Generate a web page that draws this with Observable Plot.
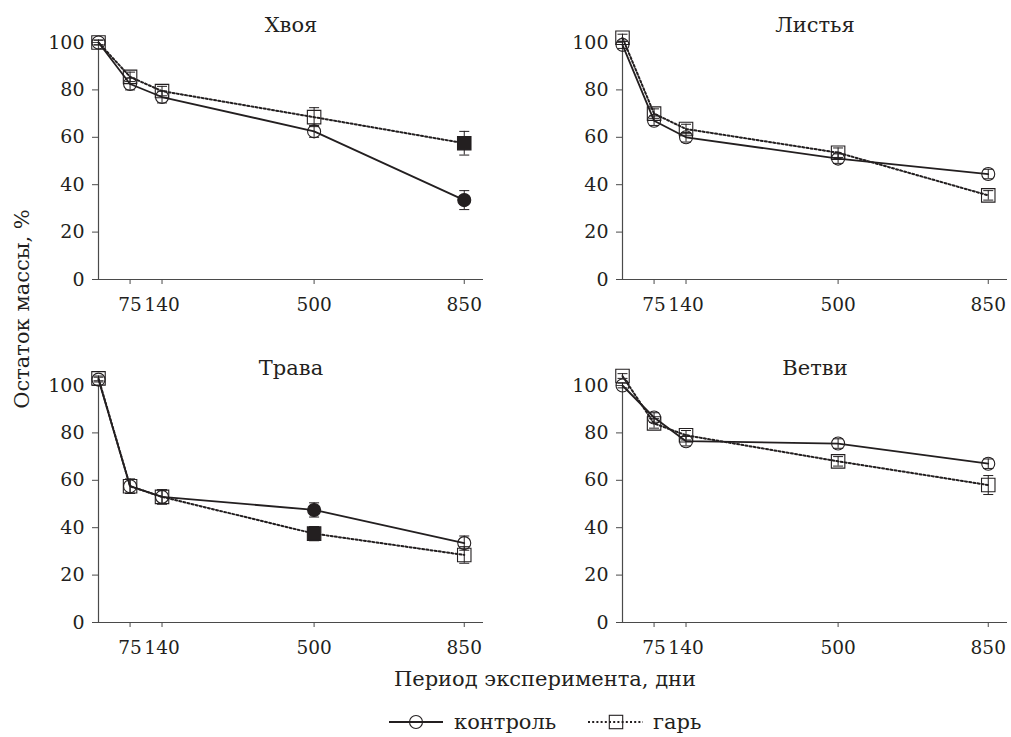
<!DOCTYPE html>
<html><head><meta charset="utf-8">
<script src="https://cdn.jsdelivr.net/npm/d3@7"></script>
<script src="https://cdn.jsdelivr.net/npm/@observablehq/plot@0.6"></script>
<style>
body{margin:0;background:#fff;}
#wrap{position:relative;width:1011px;height:737px;font-family:"DejaVu Serif",serif;color:#231f20;overflow:hidden;}
.panel{position:absolute;}
.lab{position:absolute;font-size:21px;white-space:nowrap;}
</style></head><body><div id="wrap"></div>
<script>
// ---- data ----
const days = [0, 75, 140, 500, 850];
const tickDays = [75, 140, 500, 850];
const yTicks = [0, 20, 40, 60, 80, 100];
const panelTitles = ["Хвоя", "Листья", "Трава", "Ветви"];
const seriesNames = ["контроль", "гарь"];

const khvoyaControl = [100, 82.5, 77, 62.5, 33.5];
const khvoyaControlErr = [1, 2.5, 2.5, 2.5, 4];
const khvoyaControlSig = [0, 0, 0, 0, 1];
const khvoyaBurn = [100, 85.5, 79.5, 68.5, 57.5];
const khvoyaBurnErr = [1, 2, 2, 4, 5];
const khvoyaBurnSig = [0, 0, 0, 0, 1];

const listyaControl = [99, 67, 60, 51, 44.5];
const listyaControlErr = [1.5, 2, 2, 2, 2];
const listyaControlSig = [0, 0, 0, 0, 0];
const listyaBurn = [102, 70, 63.5, 53.5, 35.5];
const listyaBurnErr = [1.5, 2, 2, 2, 2];
const listyaBurnSig = [0, 0, 0, 0, 0];

const travaControl = [102.5, 57.5, 53, 47.5, 33.5];
const travaControlErr = [1, 3, 3, 3, 3];
const travaControlSig = [0, 0, 0, 1, 0];
const travaBurn = [103, 57.5, 53, 37.5, 28.5];
const travaBurnErr = [1, 3, 3, 3, 3.5];
const travaBurnSig = [0, 0, 0, 1, 0];

const vetviControl = [100, 86.5, 76.5, 75.5, 67];
const vetviControlErr = [1, 2, 2, 2, 2];
const vetviControlSig = [0, 0, 0, 0, 0];
const vetviBurn = [104, 84, 79, 68, 58];
const vetviBurnErr = [1, 2, 2, 2, 4];
const vetviBurnSig = [0, 0, 0, 0, 0];

// ---- build ----
const ink = "#231f20";
const axisInk = "#4a4a4a";
const font = "DejaVu Serif";
function rows(vals, errs, sig, series) {
  return days.map((d, i) => ({day: d, value: vals[i], err: errs[i], sig: !!sig[i], series}));
}
const panelData = [
  [rows(khvoyaControl, khvoyaControlErr, khvoyaControlSig, 0), rows(khvoyaBurn, khvoyaBurnErr, khvoyaBurnSig, 1)],
  [rows(listyaControl, listyaControlErr, listyaControlSig, 0), rows(listyaBurn, listyaBurnErr, listyaBurnSig, 1)],
  [rows(travaControl, travaControlErr, travaControlSig, 0), rows(travaBurn, travaBurnErr, travaBurnSig, 1)],
  [rows(vetviControl, vetviControlErr, vetviControlSig, 0), rows(vetviBurn, vetviBurnErr, vetviBurnSig, 1)]
];

const W = 505, H = 320, mL = 98, mR = 22, mT = 42, mB = 41;
const inner = W - mL - mR;
// piecewise axis: compressed spacing as in the source figure
const xDomain = [0, 75, 140, 500, 850, 897];
const xFrac = [0, 0.082, 0.165, 0.560, 0.950, 1];
const xRange = xFrac.map(f => mL + f * inner);

const capSymbol = {draw(ctx, size) { const r = Math.sqrt(size / Math.PI); ctx.moveTo(-r, 0); ctx.lineTo(r, 0); }};

const positions = [[0, 0], [524, 0], [0, 343], [524, 343]];
const wrap = document.getElementById("wrap");

panelData.forEach(([ctrl, burn], k) => {
  const all = ctrl.concat(burn);
  const chart = Plot.plot({
    width: W, height: H, marginLeft: mL, marginRight: mR, marginTop: mT, marginBottom: mB,
    style: {fontFamily: font, fontSize: "19px", color: ink, background: "transparent", overflow: "visible"},
    x: {type: "linear", domain: xDomain, range: xRange},
    y: {domain: [0, 100]},
    marks: [
      Plot.ruleY([0], {stroke: axisInk, strokeWidth: 1.2}),
      Plot.ruleX([0], {stroke: axisInk, strokeWidth: 1.2}),
      Plot.axisY({ticks: yTicks, tickSize: 6, tickPadding: 8, label: null, stroke: axisInk, fill: ink, fontSize: 19}),
      Plot.axisX({ticks: tickDays, tickSize: 5, tickPadding: 13, label: null, stroke: axisInk, fill: ink, fontSize: 18.5}),
      Plot.text([panelTitles[k]], {frameAnchor: "top", dy: -25, fontSize: 21, fill: ink}),
      Plot.line(ctrl, {x: "day", y: "value", stroke: ink, strokeWidth: 1.8}),
      Plot.line(burn, {x: "day", y: "value", stroke: ink, strokeWidth: 2, strokeDasharray: "2,2.2"}),
      Plot.ruleX(all, {x: "day", y1: d => d.value - d.err, y2: d => d.value + d.err, stroke: ink, strokeWidth: 1}),
      Plot.dot(all, {x: "day", y: d => d.value - d.err, symbol: capSymbol, r: 5, stroke: ink, strokeWidth: 1}),
      Plot.dot(all, {x: "day", y: d => d.value + d.err, symbol: capSymbol, r: 5, stroke: ink, strokeWidth: 1}),
      Plot.dot(ctrl, {x: "day", y: "value", r: 6.5, symbol: "circle", stroke: ink, strokeWidth: 1.1, fill: d => d.sig ? ink : "none"}),
      Plot.dot(burn, {x: "day", y: "value", r: 7.6, symbol: "square", stroke: ink, strokeWidth: 1.1, fill: d => d.sig ? ink : "none"})
    ]
  });
  chart.classList.add("panel");
  chart.style.left = positions[k][0] + "px";
  chart.style.top = positions[k][1] + "px";
  wrap.appendChild(chart);
});

// axis titles
const yl = document.createElement("div");
yl.className = "lab";
yl.textContent = "Остаток массы, %";
yl.style.left = "22px"; yl.style.top = "309px";
yl.style.transform = "translate(-50%,-50%) rotate(-90deg)";
wrap.appendChild(yl);

const xl = document.createElement("div");
xl.className = "lab";
xl.textContent = "Период эксперимента, дни";
xl.style.left = "545px"; xl.style.top = "679px";
xl.style.transform = "translate(-50%,-50%)";
wrap.appendChild(xl);

// legend
const svg = d3.select(wrap).append("svg").attr("width", 1011).attr("height", 40)
  .style("position", "absolute").style("left", "0px").style("top", "702px");
const ly = 20;
const lg0 = svg.append("g");
lg0.append("line").attr("x1", 389).attr("x2", 443).attr("y1", ly).attr("y2", ly).attr("stroke", ink).attr("stroke-width", 1.8);
lg0.append("circle").attr("cx", 416).attr("cy", ly).attr("r", 6.5).attr("fill", "none").attr("stroke", ink).attr("stroke-width", 1.1);
lg0.append("text").attr("x", 454).attr("y", ly).attr("dy", "0.32em").attr("font-family", font).attr("font-size", 21).attr("fill", ink).text(seriesNames[0]);
const lg1 = svg.append("g");
lg1.append("line").attr("x1", 588).attr("x2", 643).attr("y1", ly).attr("y2", ly).attr("stroke", ink).attr("stroke-width", 2).attr("stroke-dasharray", "2,2.2");
lg1.append("rect").attr("x", 616 - 6.7).attr("y", ly - 6.7).attr("width", 13.4).attr("height", 13.4).attr("fill", "none").attr("stroke", ink).attr("stroke-width", 1.1);
lg1.append("text").attr("x", 653).attr("y", ly).attr("dy", "0.32em").attr("font-family", font).attr("font-size", 21).attr("fill", ink).text(seriesNames[1]);
</script>
</body></html>
